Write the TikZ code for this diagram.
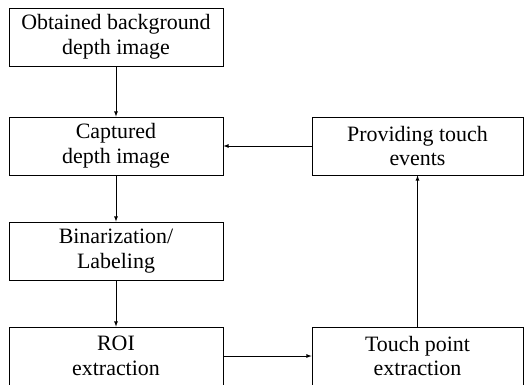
\documentclass[tikz,border=0pt]{standalone}
\usepackage{fontspec}
\setmainfont{Liberation Serif}
\usetikzlibrary{arrows}

\begin{document}
\begin{tikzpicture}[x=1bp, y=1bp, line width=0.8bp, color=black, node distance=105bp,
  box/.style={draw, rectangle, minimum width=214bp, minimum height=58bp, inner sep=0pt, align=center, font=\fontsize{22}{25}\selectfont}]
\useasboundingbox (0,0) rectangle (525,384);
\node[box] (a) at (116,347) {Obtained background\\depth image};
\node[box,below of=a,node distance=109bp] (b) {Captured\\depth image};
\node[box,below of=b] (c) {Binarization/\\Labeling};
\node[box,below of=c] (d) {ROI\\extraction};
\node[box,right of=d,node distance=301.5bp,minimum width=211bp] (e) {Touch point\\extraction};
\node[box,right of=b,node distance=301.5bp,minimum width=211bp] (f) {Providing touch\\events};

% arrows
\draw [-latex] (a) -- (b);
\draw [-latex] (b) -- (c);
\draw [-latex] (c) -- (d);
\draw [-latex] (d) -- (e);
\draw [-latex] (e) -- (f);
\draw [-latex] (f) -- (b);

\end{tikzpicture}
\end{document}
